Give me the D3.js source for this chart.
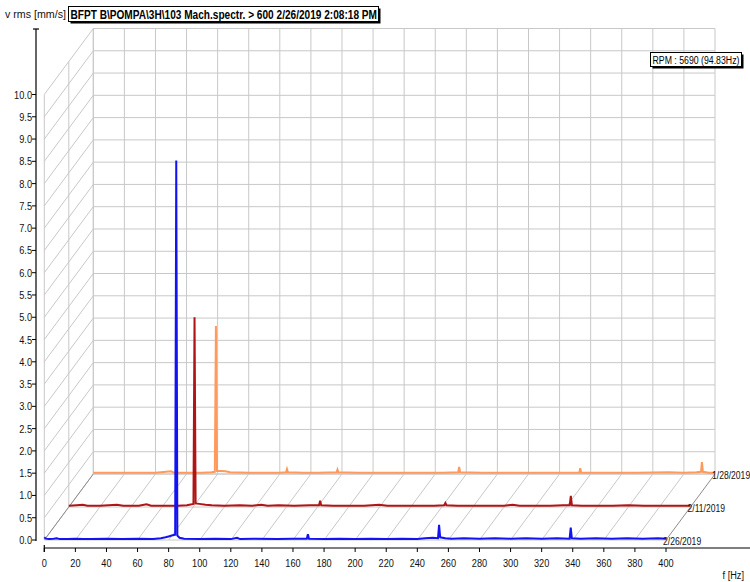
<!DOCTYPE html>
<html><head><meta charset="utf-8">
<script src="https://cdn.jsdelivr.net/npm/d3@7"></script>
<style>
html,body{margin:0;padding:0;background:#fff;}
svg{display:block;}
text{font-family:"Liberation Sans",Arial,sans-serif;}
</style></head>
<body>
<svg id="chart" width="750" height="582"></svg>
<script>
// ---------- data ----------
const seriesNames = ["2/26/2019", "2/11/2019", "1/28/2019"];   // front -> back
const seriesColors = ["#1212f2", "#b01414", "#ff9a5c"];
const freqTicks = [0,20,40,60,80,100,120,140,160,180,200,220,240,260,280,300,320,340,360,380,400];
const ampTicks = [0,0.5,1,1.5,2,2.5,3,3.5,4,4.5,5,5.5,6,6.5,7,7.5,8,8.5,9,9.5,10];
const ampTickLabels = ["0.0","0.5","1.0","1.5","2.0","2.5","3.0","3.5","4.0","4.5","5.0","5.5","6.0","6.5","7.0","7.5","8.0","8.5","9.0","9.5","10.0"];
const yLabel = "v rms [mm/s]";
const xLabel = "f [Hz]";
const titleText = "BFPT B\\POMPA\\3H\\103 Mach.spectr. > 600 2/26/2019 2:08:18 PM";
const rpmText = "RPM : 5690 (94.83Hz)";

// [frequency Hz, amplitude mm/s]
const spec0226 = [[0,0.06],[1,0.03],[3,0.02],[6,0.03],[8,0.04],[10,0.02],[15,0.02],[20,0.03],[25,0.02],[30,0.02],[40,0.03],[50,0.02],[60,0.03],[70,0.02],[75,0.04],[78,0.06],[80,0.08],[82,0.1],[84.2,0.12],[84.9,8.52],[85.6,0.1],[87,0.05],[90,0.03],[100,0.02],[110,0.03],[120,0.02],[124,0.05],[126,0.02],[135,0.03],[150,0.02],[160,0.03],[168.9,0.03],[169.6,0.13],[170.3,0.03],[180,0.02],[190,0.03],[200,0.02],[210,0.03],[220,0.02],[230,0.03],[240,0.02],[245,0.04],[250,0.05],[253.3,0.04],[254,0.34],[254.7,0.06],[258,0.04],[262,0.03],[270,0.04],[280,0.03],[290,0.04],[300,0.03],[310,0.04],[320,0.03],[330,0.04],[338,0.03],[338.7,0.28],[339.4,0.04],[345,0.03],[355,0.04],[365,0.03],[375,0.04],[385,0.03],[395,0.04],[400,0.03]];
const spec0211 = [[0,0.03],[5,0.04],[9,0.05],[12,0.03],[20,0.03],[31,0.05],[35,0.03],[45,0.03],[50,0.06],[53,0.03],[60,0.03],[70,0.03],[76,0.04],[79,0.06],[80.2,0.07],[80.9,4.26],[81.6,0.08],[84,0.07],[88,0.05],[92,0.04],[100,0.03],[110,0.04],[118,0.03],[123.8,0.05],[128,0.03],[135,0.04],[145,0.03],[155,0.04],[161,0.04],[161.7,0.14],[162.4,0.04],[170,0.03],[180,0.03],[190,0.03],[199.7,0.05],[205,0.03],[215,0.03],[225,0.03],[235,0.03],[241.6,0.04],[242.3,0.09],[243,0.04],[250,0.03],[260,0.03],[270,0.03],[280,0.03],[285.6,0.05],[290,0.03],[300,0.03],[310,0.03],[318,0.04],[322.3,0.04],[323,0.25],[323.7,0.04],[330,0.03],[340,0.03],[350,0.03],[360,0.04],[370,0.03],[380,0.03],[390,0.03],[400,0.03]];
const spec0128 = [[0,0.03],[10,0.03],[20,0.03],[30,0.03],[40,0.03],[50,0.06],[52,0.03],[60,0.03],[70,0.03],[76,0.04],[78.2,0.05],[78.9,3.32],[79.6,0.07],[82,0.07],[85,0.06],[88,0.04],[100,0.03],[110,0.03],[120,0.03],[124,0.04],[124.6,0.11],[125.2,0.04],[135,0.03],[145,0.03],[156.5,0.04],[157.1,0.1],[157.7,0.04],[170,0.03],[190,0.03],[210,0.03],[225,0.03],[234.8,0.04],[235.4,0.16],[236,0.04],[250,0.03],[270,0.03],[290,0.03],[312.7,0.03],[313.3,0.13],[313.9,0.03],[330,0.03],[350,0.03],[370,0.04],[380,0.03],[388,0.04],[391,0.05],[391.6,0.27],[392.2,0.05],[396,0.03],[400,0.03]];
const spectra = [spec0226, spec0211, spec0128];

// ---------- layout ----------
const svg = d3.select("#chart");
const x = d3.scaleLinear().domain([0,400]).range([44.3,666]);
const y = d3.scaleLinear().domain([0,10]).range([540,94.5]);
const depthDX = 24.5, depthDY = -33;            // offset per series row
const nRows = seriesNames.length;
const backDX = depthDX*(nRows-1), backDY = depthDY*(nRows-1);
const gridColor = "#c8c8c8";
const NARROW = 0.8;

function label(g, x0, y0, s, size, anchor, opts) {
  opts = opts || {};
  const t = g.append("text")
    .attr("transform", `translate(${x0},${y0}) scale(${opts.sx || NARROW},1)`)
    .attr("font-size", size).attr("text-anchor", anchor || "start")
    .attr("font-weight", opts.bold ? "bold" : "normal")
    .attr("fill", opts.fill || "#111").text(s);
  if (opts.fitWidth) {
    const len = t.node().getComputedTextLength();
    t.attr("transform", `translate(${x0},${y0}) scale(${opts.fitWidth/len},1)`);
  }
  return t;
}

const grid = svg.append("g").attr("stroke", gridColor).attr("stroke-width",1).attr("fill","none");
const L = (g,x1,y1,x2,y2,c) => g.append("line").attr("x1",x1).attr("y1",y1).attr("x2",x2).attr("y2",y2).attr("stroke", c||null);

// back wall
freqTicks.forEach(f => L(grid, x(f)+backDX, y(0)+backDY, x(f)+backDX, y(10)+backDY));
ampTicks.forEach(v => L(grid, x(0)+backDX, y(v)+backDY, x(400)+backDX, y(v)+backDY));
// left wall
for (let r=0;r<nRows;r++) L(grid, x(0)+depthDX*r, y(0)+depthDY*r, x(0)+depthDX*r, y(10)+depthDY*r);
ampTicks.forEach(v => L(grid, x(0), y(v), x(0)+backDX, y(v)+backDY));
// floor
freqTicks.forEach((f,i) => L(grid, x(f), y(0), x(f)+backDX, y(0)+backDY, (i===0||i===freqTicks.length-1)?"#8c8c8c":null));
for (let r=0;r<nRows;r++) L(grid, x(0)+depthDX*r, y(0)+depthDY*r, x(400)+depthDX*r, y(0)+depthDY*r);

// spectra (back to front)
for (let r=nRows-1; r>=0; r--) {
  const ox = depthDX*r, oy = depthDY*r;
  const line = d3.line().x(d => x(d[0])+ox).y(d => y(d[1])+oy);
  svg.append("path").datum(spectra[r]).attr("d", line)
    .attr("fill","none").attr("stroke", seriesColors[r]).attr("stroke-width",2)
    .attr("stroke-linejoin","miter");
  label(svg, x(400)+ox-3, y(0)+oy+5, seriesNames[r], 11, "start", {sx: 0.78});
}

// y axis
const yAxisX = 36;
const ya = svg.append("g");
ya.append("line").attr("x1",yAxisX).attr("x2",yAxisX).attr("y1",29).attr("y2",541).attr("stroke","#000").attr("stroke-width",1.2);
ya.append("line").attr("x1",yAxisX-3).attr("x2",yAxisX+3).attr("y1",29).attr("y2",29).attr("stroke","#000").attr("stroke-width",1.2);
ampTicks.forEach((v,i) => {
  ya.append("line").attr("x1",yAxisX-4).attr("x2",yAxisX).attr("y1",y(v)).attr("y2",y(v)).attr("stroke","#000");
  label(ya, yAxisX-4, y(v)+4, ampTickLabels[i], 11.5, "end");
});

// x axis
const xAxisY = 548;
const xa = svg.append("g");
xa.append("line").attr("x1",x(0)).attr("x2",750).attr("y1",xAxisY).attr("y2",xAxisY).attr("stroke","#000").attr("stroke-width",1.2);
xa.append("line").attr("x1",x(0)).attr("x2",x(0)).attr("y1",xAxisY-3).attr("y2",xAxisY+4).attr("stroke","#000").attr("stroke-width",1.2);
freqTicks.forEach(f => {
  xa.append("line").attr("x1",x(f)).attr("x2",x(f)).attr("y1",xAxisY).attr("y2",xAxisY+4).attr("stroke","#000");
  label(xa, x(f), 567, String(f), 11.5, "middle");
});
label(svg, 744, 579, xLabel, 11.5, "end");
label(svg, 5, 18, yLabel, 11, "start", {fitWidth: 61});

// boxed labels with shadow
function boxLabel(x0, y0, w, h, txt, bold, size) {
  const g = svg.append("g");
  g.append("rect").attr("x",x0+2).attr("y",y0+2).attr("width",w).attr("height",h).attr("fill","#000");
  g.append("rect").attr("x",x0).attr("y",y0).attr("width",w).attr("height",h).attr("fill","#fff").attr("stroke","#000").attr("stroke-width",1);
  label(g, x0+2, y0+h/2+4.5, txt, size, "start", {bold: bold, fill: "#000", fitWidth: w-4});
}
boxLabel(68.5, 6.5, 310, 15, titleText, true, 12.5);
boxLabel(650.5, 52.5, 91, 14, rpmText, false, 11.5);
</script>
</body></html>
